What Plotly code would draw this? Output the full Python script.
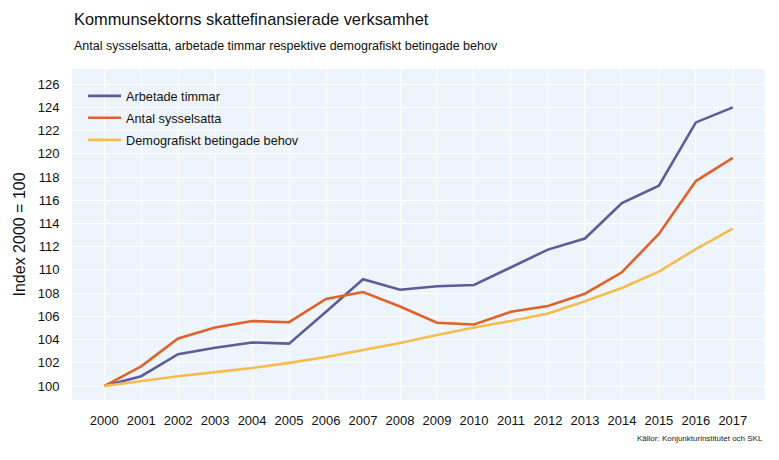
import plotly.graph_objects as go

years = list(range(2000, 2018))
arbetade_timmar = [100, 100.85, 102.75, 103.3, 103.75, 103.65, 106.4, 109.2, 108.3, 108.6, 108.7,
                   110.2, 111.75, 112.7, 115.75, 117.25, 122.7, 124.0]
antal_sysselsatta = [100, 101.7, 104.1, 105.05, 105.6, 105.5, 107.5, 108.1, 106.85, 105.45, 105.3,
                     106.4, 106.9, 107.95, 109.8, 113.1, 117.65, 119.65]
demografiskt = [100, 100.45, 100.85, 101.2, 101.55, 102.0, 102.5, 103.1, 103.7, 104.4, 105.05,
                105.6, 106.25, 107.3, 108.45, 109.85, 111.8, 113.55]
series_names = ["Arbetade timmar", "Antal sysselsatta", "Demografiskt betingade behov"]
colors = ["#5e5b9b", "#e0622a", "#f4bd4e"]
legend_ids = ["legend", "legend2", "legend3"]
legend_y = [0.918, 0.852, 0.785]

fig = go.Figure()
for name, vals, c, lg in zip(series_names, [arbetade_timmar, antal_sysselsatta, demografiskt],
                             colors, legend_ids):
    fig.add_trace(go.Scatter(x=years, y=vals, name=name, mode="lines", legend=lg,
                             line=dict(color=c, width=2.6)))

font = "Liberation Sans, Arial, sans-serif"
legend_style = dict(x=0.016, xanchor="left", yanchor="middle",
                    bgcolor="rgba(0,0,0,0)", font=dict(size=12.7, color="#111"),
                    itemwidth=33)
fig.update_layout(
    width=779, height=460,
    margin=dict(l=64, r=22, t=61, b=68, autoexpand=False),
    paper_bgcolor="white", plot_bgcolor="#edf4fb",
    font=dict(family=font, color="#111111", size=13),
    showlegend=True,
    legend=dict(y=legend_y[0], **legend_style),
    legend2=dict(y=legend_y[1], **legend_style),
    legend3=dict(y=legend_y[2], **legend_style),
    xaxis=dict(range=[1999.13, 2017.87], tickmode="array", tickvals=years,
               ticktext=[str(y) for y in years], showgrid=True, gridcolor="white",
               gridwidth=1, zeroline=False, showline=False, tickfont=dict(size=13),
               ticks="outside", ticklen=8, tickcolor="rgba(0,0,0,0)", automargin=False),
    yaxis=dict(range=[98.8, 127.3], tickmode="linear", tick0=100, dtick=2,
               showgrid=True, gridcolor="white", gridwidth=1, zeroline=False,
               tickfont=dict(size=13), ticks="outside", ticklen=9,
               tickcolor="rgba(0,0,0,0)", automargin=False),
    annotations=[
        dict(text="Kommunsektorns skattefinansierade verksamhet", xref="paper", yref="paper",
             x=0, y=1, xanchor="left", yanchor="bottom", yshift=39, showarrow=False,
             font=dict(size=16.4, color="#111")),
        dict(text="Antal sysselsatta, arbetade timmar respektive demografiskt betingade behov",
             xref="paper", yref="paper", x=0, y=1, xanchor="left", yanchor="bottom",
             yshift=14, showarrow=False, font=dict(size=12.5, color="#111")),
        dict(text="Index 2000 = 100", xref="paper", yref="paper", x=0, y=0.5,
             xanchor="center", yanchor="middle", xshift=-53, textangle=-90,
             showarrow=False, font=dict(size=16, color="#111")),
        dict(text="Källor: Konjunkturinstitutet och SKL", xref="paper", yref="paper",
             x=1, y=0, xanchor="right", yanchor="top", yshift=-32, showarrow=False,
             font=dict(size=8, color="#222")),
    ],
)
fig.write_html("out.html")
